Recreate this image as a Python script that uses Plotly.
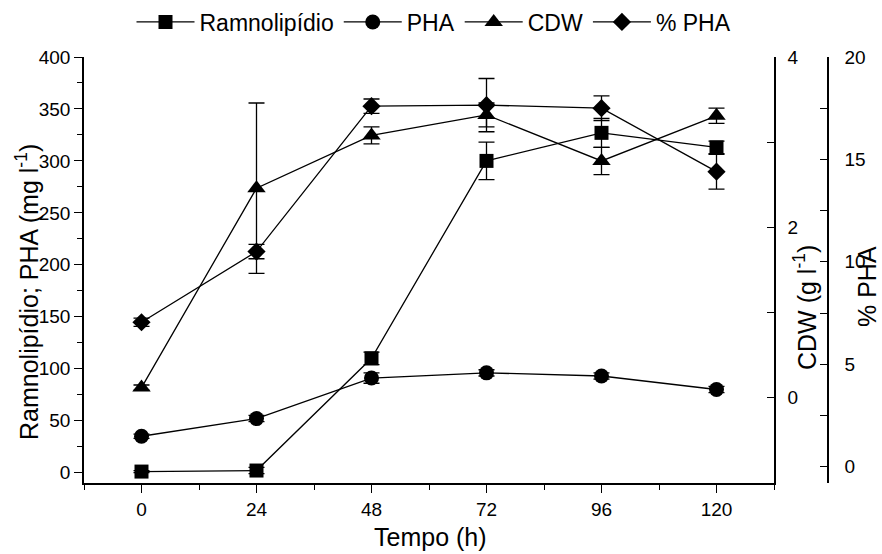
import plotly.graph_objects as go

tempo = [0, 24, 48, 72, 96, 120]

ramnolipidio = [1, 2, 110, 300, 327, 313]
ramnolipidio_err = [1, 3, 6, 18, 14, 6]

pha = [35, 52, 91, 96, 93, 80]
pha_err = [2, 3, 5, 3, 3, 3]

cdw = [0.12, 2.46, 3.08, 3.32, 2.78, 3.31]
cdw_err = [0.03, 1.0, 0.1, 0.14, 0.16, 0.09]

pct_pha = [7.05, 10.5, 17.6, 17.65, 17.5, 14.4]
pct_pha_err = [0.2, 0.35, 0.35, 1.3, 0.6, 0.85]

x_ticks = [0, 24, 48, 72, 96, 120]

FONT = "Liberation Sans, Arial, Helvetica, sans-serif"
BLACK = "#000000"

def trace(y, err, name, symbol, size, yaxis):
    return go.Scatter(
        x=tempo, y=y, name=name, yaxis=yaxis,
        mode="lines+markers",
        line=dict(color=BLACK, width=1.3),
        marker=dict(symbol=symbol, size=size, color=BLACK),
        error_y=dict(type="data", array=err, visible=True,
                     color=BLACK, thickness=1.3, width=8),
    )

fig = go.Figure()
fig.add_trace(trace(ramnolipidio, ramnolipidio_err, "Ramnolipídio", "square", 14, "y"))
fig.add_trace(trace(pha, pha_err, "PHA", "circle", 15, "y"))
fig.add_trace(trace(cdw, cdw_err, "CDW", "triangle-up", 16, "y2"))
fig.add_trace(trace(pct_pha, pct_pha_err, "% PHA", "diamond", 14, "y3"))

W, H = 882, 554
ml, mr, mt, mb = 84, 54, 57, 71
pw = W - ml - mr
ph = H - mt - mb
plot_right = 774
xdom_end = (plot_right - ml) / pw

def px_x(px):
    return (px - ml) / pw

def px_y(py):
    return (H - mb - py) / ph

tickfont = dict(family=FONT, size=19, color=BLACK)
titlefont = dict(family=FONT, size=25, color=BLACK)

fig.update_layout(
    width=W, height=H,
    margin=dict(l=ml, r=mr, t=mt, b=mb, autoexpand=False),
    paper_bgcolor="white", plot_bgcolor="white",
    font=dict(family=FONT, color=BLACK),
    showlegend=True,
    legend=dict(
        orientation="h", x=px_x(434), xanchor="center",
        y=px_y(22), yanchor="middle",
        font=dict(family=FONT, size=23, color=BLACK),
        itemwidth=58, bgcolor="rgba(0,0,0,0)",
    ),
    xaxis=dict(
        domain=[0, xdom_end], range=[-12, 132],
        tickmode="array", tickvals=x_ticks,
        ticks="outside", ticklen=8, tickwidth=1.3, tickcolor=BLACK,
        minor=dict(dtick=12, tick0=0, ticks="outside", ticklen=5, tickwidth=1.3, tickcolor=BLACK),
        showline=True, linecolor=BLACK, linewidth=1.5,
        showgrid=False, zeroline=False, tickfont=tickfont,
    ),
    yaxis=dict(
        range=[-10, 400], tickmode="linear", tick0=0, dtick=50,
        ticks="outside", ticklen=8, tickwidth=1.3, tickcolor=BLACK,
        minor=dict(dtick=25, ticks="outside", ticklen=5, tickwidth=1.3, tickcolor=BLACK),
        showline=True, linecolor=BLACK, linewidth=1.5,
        showgrid=False, zeroline=False, tickfont=tickfont,
    ),
    yaxis2=dict(
        range=[-1, 4], overlaying="y", side="right", anchor="x",
        tickmode="array", tickvals=[0, 2, 4],
        ticks="inside", ticklen=7, tickwidth=1.3, tickcolor=BLACK,
        minor=dict(dtick=1, tick0=0, ticks="inside", ticklen=7, tickwidth=1.3, tickcolor=BLACK),
        showline=True, linecolor=BLACK, linewidth=1.5,
        showgrid=False, zeroline=False, tickfont=tickfont,
        ticklabelstandoff=8,
    ),
    yaxis3=dict(
        range=[-0.8, 20], overlaying="y", side="right", anchor="free", position=1.0,
        tickmode="linear", tick0=0, dtick=5,
        ticks="inside", ticklen=7, tickwidth=1.3, tickcolor=BLACK,
        minor=dict(dtick=2.5, tick0=0, ticks="inside", ticklen=7, tickwidth=1.3, tickcolor=BLACK),
        showline=True, linecolor=BLACK, linewidth=1.5,
        showgrid=False, zeroline=False, tickfont=tickfont,
        ticklabelstandoff=12,
    ),
)

annotations = [
    dict(text="Tempo (h)", x=px_x(430), y=px_y(537), textangle=0),
    dict(text="Ramnolipídio; PHA (mg l<sup>-1</sup>)", x=px_x(27), y=px_y(292), textangle=-90),
    dict(text="CDW (g l<sup>-1</sup>)", x=px_x(805), y=px_y(308), textangle=-90),
    dict(text="% PHA", x=px_x(867), y=px_y(287), textangle=-90),
]
for a in annotations:
    fig.add_annotation(
        xref="paper", yref="paper", showarrow=False,
        xanchor="center", yanchor="middle", font=titlefont, **a,
    )

fig.write_html("out.html")
